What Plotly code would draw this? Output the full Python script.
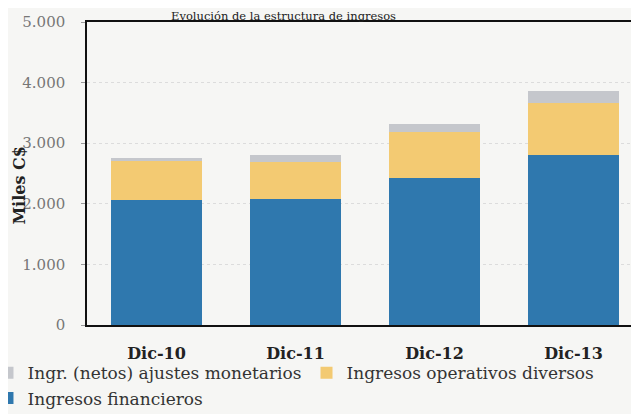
import plotly.graph_objects as go

categories = ["Dic-10", "Dic-11", "Dic-12", "Dic-13"]
ingresos_financieros = [2060, 2080, 2430, 2800]
ingresos_operativos = [650, 610, 760, 870]
ajustes_monetarios = [40, 110, 120, 190]
y_ticks = [0, 1000, 2000, 3000, 4000, 5000]
y_tick_labels = ["0", "1.000", "2.000", "3.000", "4.000", "5.000"]

SERIF = "DejaVu Serif"
BG = "#f6f6f4"

fig = go.Figure()
fig.add_trace(go.Bar(x=categories, y=ingresos_financieros, name="Ingresos financieros",
                     marker=dict(color="#2f78ae", line=dict(width=0))))
fig.add_trace(go.Bar(x=categories, y=ingresos_operativos, name="Ingresos operativos diversos",
                     marker=dict(color="#f3ca72", line=dict(width=0))))
fig.add_trace(go.Bar(x=categories, y=ajustes_monetarios, name="Ingr. (netos) ajustes monetarios",
                     marker=dict(color="#c5c7cc", line=dict(width=0))))

fig.update_layout(
    width=639, height=414,
    barmode="stack", bargap=0.345,
    paper_bgcolor=BG, plot_bgcolor=BG,
    margin=dict(l=79, r=4, t=14, b=97, autoexpand=False),
    font=dict(family=SERIF, color="#333"),
    showlegend=True,
    legend=dict(orientation="h", traceorder="reversed", x=-0.179, xanchor="left",
                y=-0.1, yanchor="top",
                font=dict(family=SERIF, size=17, color="#333"),
                bgcolor="rgba(0,0,0,0)"),
    annotations=[
        dict(text="Evolución de la estructura de ingresos", xref="paper", yref="paper",
             x=0.353, y=1, xanchor="center", yanchor="top", yshift=15, showarrow=False,
             font=dict(family=SERIF, size=11.5, color="#222")),
        dict(text="<b>Miles C$</b>", xref="paper", yref="paper", x=0, y=0.46,
             xanchor="center", yanchor="middle", xshift=-67, textangle=-90, showarrow=False,
             font=dict(family=SERIF, size=16, color="#222")),
    ],
)
fig.update_xaxes(showline=True, linecolor="#111", linewidth=1.5, mirror=True, automargin=False,
                 tickfont=dict(family=SERIF, size=16, color="#222"),
                 ticklabelstandoff=13, showgrid=False,
                 tickprefix="<b>", ticksuffix="</b>")
fig.update_yaxes(range=[0, 5000], tickvals=y_ticks, ticktext=y_tick_labels, automargin=False,
                 showline=True, linecolor="#111", linewidth=1.5,
                 ticks="outside", ticklen=4, tickcolor="#999",
                 tickfont=dict(family=SERIF, size=15, color="#777"),
                 ticklabelstandoff=13,
                 showgrid=True, gridcolor="#dcdcdc", griddash="dot", zeroline=False)
fig.for_each_trace(lambda t: t.update(hoverinfo="skip"))

fig.write_html("out.html")
